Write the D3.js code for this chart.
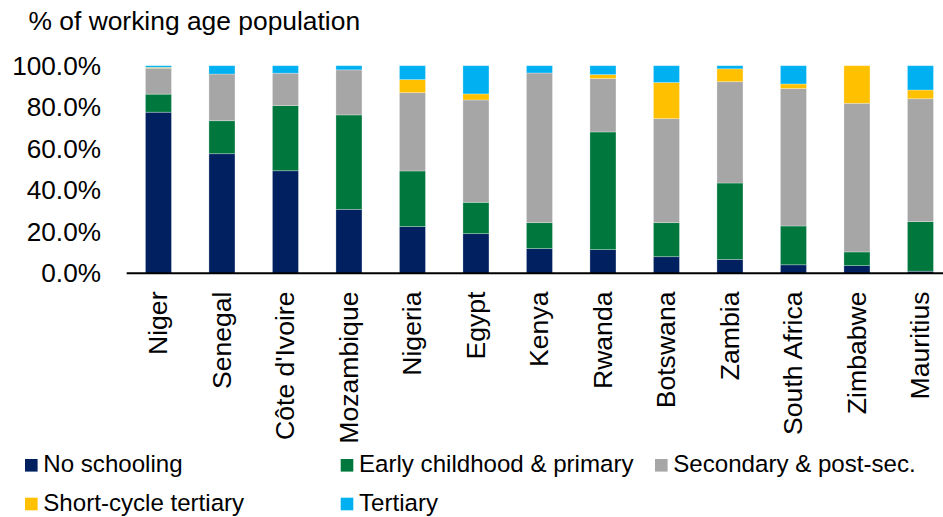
<!DOCTYPE html>
<html>
<head>
<meta charset="utf-8">
<script src="https://cdn.jsdelivr.net/npm/d3@7/dist/d3.min.js"></script>
<style>
  html, body { margin: 0; padding: 0; background: #ffffff; }
  svg { display: block; }
  text { font-family: "Liberation Sans", Arial, sans-serif; fill: #000; }
</style>
</head>
<body>
<svg id="chart" width="943" height="517"></svg>
<script>
// Countries, left to right
const countries = ["Niger", "Senegal", "Côte d'Ivoire", "Mozambique", "Nigeria", "Egypt",
  "Kenya", "Rwanda", "Botswana", "Zambia", "South Africa", "Zimbabwe", "Mauritius"];

// Share of working age population by education level (%)
const noSchooling   = [77.6, 57.6, 49.4, 30.8, 22.5, 19.1, 11.9, 11.4,  8.0,  6.7,  4.1,  3.7,  1.0];
const earlyPrimary  = [ 8.7, 15.9, 31.4, 45.5, 26.8, 15.1, 12.5, 56.7, 16.4, 36.8, 18.7,  6.6, 23.9];
const secondary     = [12.5, 22.5, 15.6, 21.7, 37.7, 49.3, 72.1, 25.7, 50.1, 48.8, 66.2, 71.6, 59.2];
const shortCycle    = [ 0.4,  0.0,  0.0,  0.0,  6.3,  2.9,  0.0,  1.9, 17.4,  6.2,  2.2, 18.1,  4.2];
const tertiary      = [ 0.8,  4.0,  3.6,  2.0,  6.7, 13.6,  3.5,  4.3,  8.1,  1.5,  8.8,  0.0, 11.7];

const seriesNames = ["No schooling", "Early childhood & primary", "Secondary & post-sec.",
  "Short-cycle tertiary", "Tertiary"];
const seriesValues = [noSchooling, earlyPrimary, secondary, shortCycle, tertiary];
const seriesColors = ["#002060", "#00773D", "#A6A6A6", "#FFC000", "#00B0F0"];

const yTicks = [0, 0.2, 0.4, 0.6, 0.8, 1.0];

const keys = seriesNames;
const rows = countries.map((c, i) => {
  const r = { country: c };
  keys.forEach((k, j) => { r[k] = seriesValues[j][i] / 100; });
  return r;
});
const stacked = d3.stack().keys(keys)(rows);

const svg = d3.select("#chart");

const x = d3.scaleBand()
  .domain(countries)
  .range([126.7, 952.2])
  .paddingInner(0.59)
  .paddingOuter(0.295);

const y = d3.scaleLinear().domain([0, 1]).range([273.3, 65.7]);

const color = d3.scaleOrdinal().domain(keys).range(seriesColors);

// Title
svg.append("text")
  .attr("x", 28.5)
  .attr("y", 29.5)
  .attr("font-size", 26.4)
  .text("% of working age population");

// Y axis labels only (no line, no ticks)
const yAxis = d3.axisLeft(y)
  .tickValues(yTicks)
  .tickFormat(d3.format(".1%"))
  .tickSize(0)
  .tickPadding(0);
const gy = svg.append("g")
  .attr("transform", "translate(101,0)")
  .call(yAxis);
gy.select(".domain").remove();
gy.selectAll("text")
  .attr("font-size", 26.2)
  .attr("font-family", "Liberation Sans, Arial, sans-serif")
  .attr("fill", "#000");

// Stacked bars
svg.append("g")
  .selectAll("g")
  .data(stacked)
  .join("g")
  .attr("fill", d => color(d.key))
  .selectAll("rect")
  .data(d => d)
  .join("rect")
  .attr("x", d => x(d.data.country))
  .attr("width", x.bandwidth())
  .attr("y", d => y(d[1]))
  .attr("height", d => Math.max(0, y(d[0]) - y(d[1])))
  .attr("stroke", "#ffffff")
  .attr("stroke-opacity", 0.35)
  .attr("stroke-width", 0.8);

// Category axis line
svg.append("line")
  .attr("x1", 126.7)
  .attr("x2", 943)
  .attr("y1", y(0))
  .attr("y2", y(0))
  .attr("stroke", "#000")
  .attr("stroke-width", 2);

// Rotated category labels
svg.append("g")
  .selectAll("text")
  .data(countries)
  .join("text")
  .attr("transform", d => `translate(${x(d) + x.bandwidth() / 2 + 8.7},291.5) rotate(-90)`)
  .attr("text-anchor", "end")
  .attr("font-size", 26.6)
  .text(d => d);

// Legend
const legendPos = [
  { x: 25, y: 465.3 },
  { x: 340.7, y: 465.3 },
  { x: 655, y: 465.3 },
  { x: 25, y: 504 },
  { x: 340.7, y: 504 }
];
const lg = svg.append("g")
  .selectAll("g")
  .data(keys)
  .join("g")
  .attr("transform", (d, i) => `translate(${legendPos[i].x},${legendPos[i].y})`);
lg.append("rect")
  .attr("x", 0)
  .attr("y", -6.3)
  .attr("width", 12.6)
  .attr("height", 12.6)
  .attr("fill", d => color(d));
lg.append("text")
  .attr("x", 18.3)
  .attr("y", 6.8)
  .attr("font-size", 24.1)
  .text(d => d);
</script>
</body>
</html>
